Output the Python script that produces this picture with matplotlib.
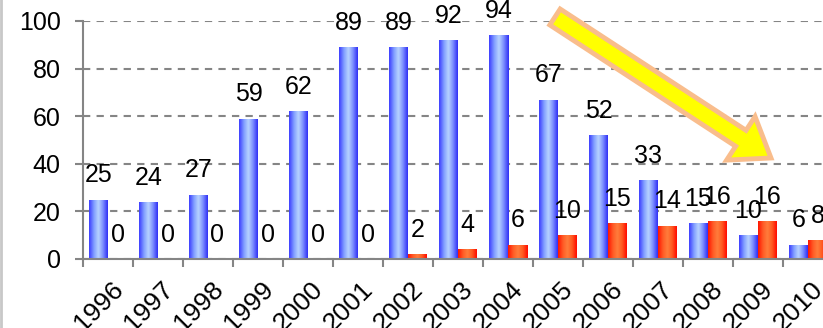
import numpy as np
import matplotlib
matplotlib.use('Agg')
import matplotlib.pyplot as plt
import matplotlib.transforms as mtransforms
from matplotlib.colors import LinearSegmentedColormap
from matplotlib.patches import FancyArrow
from matplotlib.lines import Line2D

plt.rcParams['font.family'] = ['Liberation Sans', 'DejaVu Sans']

years = [str(y) for y in range(1996, 2011)]
blue_vals = [25, 24, 27, 59, 62, 89, 89, 92, 94, 67, 52, 33, 15, 10, 6]
red_vals = [0, 0, 0, 0, 0, 0, 2, 4, 6, 10, 15, 14, 16, 16, 8]

blue_cmap = LinearSegmentedColormap.from_list(
    'bl', ['#3d3dff', '#7f9bff', '#b8d4ff', '#7a8cff', '#2f2ff5'])
red_cmap = LinearSegmentedColormap.from_list(
    'rd', ['#ff1400', '#ff5a25', '#ff7d3c', '#ff5a20', '#ff0a00'])

fig = plt.figure(figsize=(8.23, 3.28), dpi=100)
ax = fig.add_axes([83 / 823, 69 / 328, 740 / 823, 238 / 328])

x = np.arange(len(years))
bw = 0.38
blue_bars = ax.bar(x + 0.12, blue_vals, width=bw, align='edge', color='none')
red_bars = ax.bar(x + 0.5, red_vals, width=bw, align='edge', color='none')

grad = np.linspace(0, 1, 64).reshape(1, -1)
for bars, cmap in [(blue_bars, blue_cmap), (red_bars, red_cmap)]:
    for r in bars:
        x0, w, h = r.get_x(), r.get_width(), r.get_height()
        if h <= 0:
            continue
        im = ax.imshow(grad, cmap=cmap, aspect='auto', extent=(x0, x0 + w, 0, h),
                       interpolation='bicubic', zorder=2)
        im.set_clip_path(r)

# value labels
for bars, vals in [(blue_bars, blue_vals), (red_bars, red_vals)]:
    for r, v in zip(bars, vals):
        ax.annotate(str(v), (r.get_x() + r.get_width() / 2, v), xytext=(0, 12.5),
                    textcoords='offset points', ha='center', va='baseline',
                    fontsize=18)

ax.set_xlim(0, 14.8)
ax.set_ylim(0, 100)
ax.set_yticks(range(0, 101, 20))
ax.yaxis.grid(True, linestyle=(0, (3.5, 3)), color='#858585', linewidth=1.5, zorder=0)
ax.set_axisbelow(True)

ax.set_xticks(np.arange(0, 15))
ax.set_xticklabels([])
ax.set_xticks(x + 0.5, minor=True)
ax.set_xticklabels(years, minor=True, rotation=45, ha='right',
                   rotation_mode='anchor', va='top', fontsize=19)
ax.tick_params(axis='x', which='minor', length=0, pad=13)
ax.tick_params(axis='x', which='major', length=6, width=1.5, color='#858585')
ax.tick_params(axis='y', length=6, width=1.5, color='#858585', labelsize=18, pad=10)

shift = mtransforms.ScaledTranslation(3 / 100, 0, fig.dpi_scale_trans)
for lbl in ax.get_xticklabels(minor=True):
    lbl.set_transform(lbl.get_transform() + shift)

for s in ['top', 'right']:
    ax.spines[s].set_visible(False)
for s in ['left', 'bottom']:
    ax.spines[s].set_color('#858585')
    ax.spines[s].set_linewidth(1.5)

# trend arrow
tail = (5.55, (328 - 17) / 100)
tip = (7.71, (328 - 158) / 100)
arrow = FancyArrow(tail[0], tail[1], tip[0] - tail[0], tip[1] - tail[1],
                   width=0.19, head_width=0.52, head_length=0.36,
                   length_includes_head=True, facecolor='#ffff00',
                   edgecolor='#f9bd8c', linewidth=3.5,
                   transform=fig.dpi_scale_trans, zorder=5)
fig.add_artist(arrow)

fig.add_artist(Line2D([0.0015, 0.0015], [0, 1], color='#c8c8c8', linewidth=2,
                      transform=fig.transFigure))

fig.savefig('out.png', dpi=100)
